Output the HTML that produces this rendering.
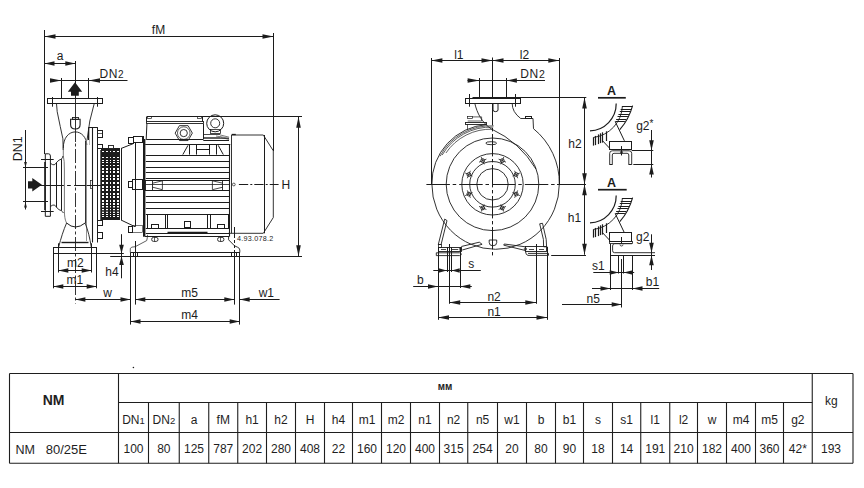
<!DOCTYPE html>
<html><head><meta charset="utf-8"><style>
html,body{margin:0;padding:0;background:#fff;}
body{width:864px;height:488px;overflow:hidden;}
svg{display:block;font-family:"Liberation Sans",sans-serif;}
</style></head><body>
<svg width="864" height="488" viewBox="0 0 864 488">
<defs><clipPath id="hau"><path d="M622.40,105.60 L619.80,111.50 L617.50,116.50 L615.20,121.50 L619.80,129.70 L624.00,123.00 L628.50,115.50 L631.00,110.00 L632.60,105.60 Z"/></clipPath>
<clipPath id="hbu"><path d="M622.40,197.60 L619.80,203.50 L617.50,208.50 L615.20,213.50 L619.80,221.70 L624.00,215.00 L628.50,207.50 L631.00,202.00 L632.60,197.60 Z"/></clipPath></defs>
<g fill="#1c1c1c" font-size="12">
<line x1="44.5" y1="30" x2="44.5" y2="154" stroke="#1c1c1c" stroke-width="1.0"/>
<line x1="273.5" y1="33" x2="273.5" y2="151" stroke="#1c1c1c" stroke-width="1.0"/>
<line x1="44.5" y1="36.5" x2="273.5" y2="36.5" stroke="#1c1c1c" stroke-width="1.0"/>
<polygon points="44.50,36.50 55.50,34.20 55.50,38.80" fill="#1c1c1c"/>
<polygon points="273.50,36.50 262.50,34.20 262.50,38.80" fill="#1c1c1c"/>
<text x="158.5" y="33.8" font-size="12" text-anchor="middle" font-weight="normal">fM</text>
<line x1="44.5" y1="63.5" x2="75.3" y2="63.5" stroke="#1c1c1c" stroke-width="1.0"/>
<polygon points="44.50,63.50 54.50,61.20 54.50,65.80" fill="#1c1c1c"/>
<polygon points="75.30,63.50 65.30,61.20 65.30,65.80" fill="#1c1c1c"/>
<text x="60" y="60" font-size="12" text-anchor="middle" font-weight="normal">a</text>
<line x1="75.5" y1="61" x2="75.5" y2="98" stroke="#1c1c1c" stroke-width="1.0"/>
<line x1="50" y1="80.5" x2="127.5" y2="80.5" stroke="#1c1c1c" stroke-width="1.0"/>
<polygon points="61.30,80.50 50.00,78.20 50.00,82.80" fill="#1c1c1c"/>
<polygon points="88.70,80.50 100.00,78.20 100.00,82.80" fill="#1c1c1c"/>
<line x1="61.5" y1="78" x2="61.5" y2="98.3" stroke="#1c1c1c" stroke-width="1.0"/>
<line x1="88.5" y1="78" x2="88.5" y2="98.3" stroke="#1c1c1c" stroke-width="1.0"/>
<text x="99.5" y="78" font-size="12" text-anchor="start" font-weight="normal" letter-spacing="0.6">DN<tspan font-size="10">2</tspan></text>
<polygon points="75,82.2 67.8,91.8 71,91.8 71,95.7 78.8,95.7 78.8,91.8 82.2,91.8" fill="#1c1c1c"/>
<line x1="25.5" y1="130" x2="25.5" y2="209.5" stroke="#1c1c1c" stroke-width="1.0"/>
<polygon points="25.50,167.60 24.10,162.10 26.90,162.10" fill="#1c1c1c"/>
<polygon points="25.50,202.00 24.10,207.50 26.90,207.50" fill="#1c1c1c"/>
<line x1="23" y1="167.5" x2="48" y2="167.5" stroke="#1c1c1c" stroke-width="1.0"/>
<line x1="23" y1="201.5" x2="48" y2="201.5" stroke="#1c1c1c" stroke-width="1.0"/>
<text x="0" y="0" font-size="12.5" text-anchor="middle" font-weight="normal" transform="translate(22.3,148.8) rotate(-90)">DN1</text>
<polygon points="41.9,184.8 32.3,178.1 32.3,181.3 28,181.3 28,188.6 32.3,188.6 32.3,191.5" fill="#1c1c1c"/>
<line x1="75.5" y1="98" x2="75.5" y2="142" stroke="#1c1c1c" stroke-width="0.9"/>
<line x1="75.5" y1="143.5" x2="75.5" y2="303.5" stroke="#1c1c1c" stroke-width="0.9" stroke-dasharray="3 2.5 14 2.5"/>
<line x1="29" y1="185.5" x2="63.9" y2="185.5" stroke="#1c1c1c" stroke-width="1.0"/>
<line x1="67.1" y1="185.5" x2="70.8" y2="185.5" stroke="#1c1c1c" stroke-width="1.0"/>
<line x1="74.1" y1="185.5" x2="101.9" y2="185.5" stroke="#1c1c1c" stroke-width="1.0"/>
<rect x="47.5" y="98.5" width="55.0" height="5.0" stroke="#1c1c1c" stroke-width="1.0" fill="none"/>
<line x1="52.5" y1="97" x2="52.5" y2="106.7" stroke="#1c1c1c" stroke-width="1.0"/>
<line x1="97.5" y1="97" x2="97.5" y2="106.7" stroke="#1c1c1c" stroke-width="1.0"/>
<path d="M56.5,103.7 L57.2,111.7 Q60.5,128 62.9,138.8 L63.2,150" stroke="#1c1c1c" stroke-width="0.9" fill="none"/>
<path d="M94.2,103.7 Q89,120 87,140.3" stroke="#1c1c1c" stroke-width="0.9" fill="none"/>
<path d="M63.3,148 C63.3,137.5 69,131.9 75.3,131.9 C81.6,131.9 86.5,137.5 86.8,145" stroke="#1c1c1c" stroke-width="0.9" fill="none"/>
<path d="M70.6,119.2 L70.6,124.5 Q70.6,129 75.3,129 Q80.1,129 80.1,124.5 L80.1,119.2 Z" stroke="#1c1c1c" stroke-width="1.1" fill="none"/>
<rect x="72.5" y="117.5" width="6.0" height="2.0" stroke="#1c1c1c" stroke-width="0.9" fill="none"/>
<path d="M63.3,148 L63.3,156 Q64.5,160 64.4,170 L64.4,212 C64.6,218 65.5,221 66.6,223" stroke="#555" stroke-width="0.8" fill="none"/>
<line x1="85.5" y1="141" x2="85.5" y2="223" stroke="#1c1c1c" stroke-width="0.9"/>
<line x1="86.5" y1="140" x2="86.5" y2="241" stroke="#777" stroke-width="0.8"/>
<path d="M66.6,223 Q75.3,231 85.1,223" stroke="#1c1c1c" stroke-width="1.0" fill="none"/>
<path d="M66.6,223 C63.5,230 61,238 58.6,247.2" stroke="#1c1c1c" stroke-width="0.9" fill="none"/>
<path d="M85.1,223 C88,230 89.8,238 91.3,247.2" stroke="#1c1c1c" stroke-width="0.9" fill="none"/>
<line x1="61.5" y1="242.5" x2="88.5" y2="242.5" stroke="#1c1c1c" stroke-width="1.4"/>
<path d="M45.3,216.3 L45.3,153.8 L48.5,153.8 Q50.4,153.8 50.4,156 L50.4,216.3 Z" stroke="#1c1c1c" stroke-width="1.0" fill="none"/>
<line x1="45" y1="162" x2="45" y2="210" stroke="#1c1c1c" stroke-width="1.6"/>
<line x1="41" y1="159.5" x2="53.7" y2="159.5" stroke="#1c1c1c" stroke-width="1.0"/>
<line x1="41" y1="211.5" x2="53.7" y2="211.5" stroke="#1c1c1c" stroke-width="1.0"/>
<path d="M50.4,163.3 Q52.5,165 54.1,164.8 Q55.5,164.5 56.7,162.3 Q59,159.5 61.3,159.2 Q62.5,158 63,156" stroke="#1c1c1c" stroke-width="0.9" fill="none"/>
<path d="M50.4,206.5 Q52.5,204.8 54.1,205 Q55.5,205.3 56.7,207.5 Q59,210.3 61.3,210.6 Q62.5,211.5 63.5,213" stroke="#1c1c1c" stroke-width="0.9" fill="none"/>
<line x1="56.5" y1="162.3" x2="56.5" y2="207.5" stroke="#1c1c1c" stroke-width="1.0"/>
<line x1="61.5" y1="159.2" x2="61.5" y2="210.6" stroke="#1c1c1c" stroke-width="1.0"/>
<rect x="53.5" y="247.5" width="43.0" height="6.0" stroke="#1c1c1c" stroke-width="1.0" fill="none"/>
<line x1="88.6" y1="127.5" x2="97.7" y2="127.5" stroke="#1c1c1c" stroke-width="1.0"/>
<line x1="88.5" y1="127.3" x2="88.5" y2="140" stroke="#1c1c1c" stroke-width="1.0"/>
<line x1="92.5" y1="127.3" x2="92.5" y2="242.5" stroke="#1c1c1c" stroke-width="1.1"/>
<line x1="97.5" y1="127.3" x2="97.5" y2="242.5" stroke="#1c1c1c" stroke-width="1.0"/>
<line x1="89.5" y1="128" x2="89.5" y2="145" stroke="#888" stroke-width="0.6"/>
<rect x="90.5" y="180.5" width="2.0" height="8.0" stroke="#1c1c1c" stroke-width="0.7" fill="none"/>
<rect x="97.5" y="130.5" width="5.0" height="7.0" stroke="#1c1c1c" stroke-width="1.0" fill="none"/>
<line x1="97.7" y1="133.5" x2="102.7" y2="133.5" stroke="#1c1c1c" stroke-width="0.7"/>
<rect x="97.5" y="144.5" width="5.0" height="4.0" stroke="#1c1c1c" stroke-width="1.0" fill="none"/>
<rect x="97.5" y="220.5" width="5.0" height="5.0" stroke="#1c1c1c" stroke-width="1.0" fill="none"/>
<rect x="97.5" y="232.5" width="5.0" height="6.0" stroke="#1c1c1c" stroke-width="1.0" fill="none"/>
<line x1="100.5" y1="150" x2="100.5" y2="220" stroke="#1c1c1c" stroke-width="0.7"/>
<rect x="101" y="148" width="19" height="72" fill="#1c1c1c"/>
<line x1="121.5" y1="148.2" x2="121.5" y2="220" stroke="#1c1c1c" stroke-width="1.0"/>
<rect x="108.5" y="145.5" width="5.0" height="3.0" stroke="#1c1c1c" stroke-width="0.9" fill="#fff"/>
<rect x="102" y="151" width="2" height="1" fill="#fff"/>
<rect x="106" y="151" width="2" height="1" fill="#fff"/>
<rect x="110" y="151" width="1" height="1" fill="#fff"/>
<rect x="113" y="151" width="2" height="1" fill="#fff"/>
<rect x="117" y="151" width="2" height="1" fill="#fff"/>
<rect x="102" y="157" width="2" height="1" fill="#fff"/>
<rect x="106" y="157" width="2" height="1" fill="#fff"/>
<rect x="110" y="157" width="1" height="1" fill="#fff"/>
<rect x="113" y="157" width="2" height="1" fill="#fff"/>
<rect x="117" y="157" width="2" height="1" fill="#fff"/>
<rect x="102" y="160" width="2" height="1" fill="#fff"/>
<rect x="106" y="160" width="2" height="1" fill="#fff"/>
<rect x="110" y="160" width="1" height="1" fill="#fff"/>
<rect x="113" y="160" width="2" height="1" fill="#fff"/>
<rect x="117" y="160" width="2" height="1" fill="#fff"/>
<rect x="102" y="162" width="2" height="1" fill="#fff"/>
<rect x="106" y="162" width="2" height="1" fill="#fff"/>
<rect x="110" y="162" width="1" height="1" fill="#fff"/>
<rect x="113" y="162" width="2" height="1" fill="#fff"/>
<rect x="117" y="162" width="2" height="1" fill="#fff"/>
<rect x="102" y="165" width="2" height="1" fill="#fff"/>
<rect x="106" y="165" width="2" height="1" fill="#fff"/>
<rect x="110" y="165" width="1" height="1" fill="#fff"/>
<rect x="113" y="165" width="2" height="1" fill="#fff"/>
<rect x="117" y="165" width="2" height="1" fill="#fff"/>
<rect x="102" y="168" width="2" height="2" fill="#fff"/>
<rect x="106" y="168" width="2" height="2" fill="#fff"/>
<rect x="110" y="168" width="1" height="2" fill="#fff"/>
<rect x="113" y="168" width="2" height="2" fill="#fff"/>
<rect x="117" y="168" width="2" height="2" fill="#fff"/>
<rect x="102" y="171" width="2" height="2" fill="#fff"/>
<rect x="106" y="171" width="2" height="2" fill="#fff"/>
<rect x="110" y="171" width="1" height="2" fill="#fff"/>
<rect x="113" y="171" width="2" height="2" fill="#fff"/>
<rect x="117" y="171" width="2" height="2" fill="#fff"/>
<rect x="102" y="175" width="2" height="2" fill="#fff"/>
<rect x="106" y="175" width="2" height="2" fill="#fff"/>
<rect x="110" y="175" width="1" height="2" fill="#fff"/>
<rect x="113" y="175" width="2" height="2" fill="#fff"/>
<rect x="117" y="175" width="2" height="2" fill="#fff"/>
<rect x="102" y="178" width="2" height="2" fill="#fff"/>
<rect x="106" y="178" width="2" height="2" fill="#fff"/>
<rect x="110" y="178" width="1" height="2" fill="#fff"/>
<rect x="113" y="178" width="2" height="2" fill="#fff"/>
<rect x="117" y="178" width="2" height="2" fill="#fff"/>
<rect x="102" y="182" width="2" height="2" fill="#fff"/>
<rect x="106" y="182" width="2" height="2" fill="#fff"/>
<rect x="110" y="182" width="1" height="2" fill="#fff"/>
<rect x="113" y="182" width="2" height="2" fill="#fff"/>
<rect x="117" y="182" width="2" height="2" fill="#fff"/>
<rect x="102" y="186" width="2" height="2" fill="#fff"/>
<rect x="106" y="186" width="2" height="2" fill="#fff"/>
<rect x="110" y="186" width="1" height="2" fill="#fff"/>
<rect x="113" y="186" width="2" height="2" fill="#fff"/>
<rect x="117" y="186" width="2" height="2" fill="#fff"/>
<rect x="102" y="189" width="2" height="2" fill="#fff"/>
<rect x="106" y="189" width="2" height="2" fill="#fff"/>
<rect x="110" y="189" width="1" height="2" fill="#fff"/>
<rect x="113" y="189" width="2" height="2" fill="#fff"/>
<rect x="117" y="189" width="2" height="2" fill="#fff"/>
<rect x="102" y="193" width="2" height="2" fill="#fff"/>
<rect x="106" y="193" width="2" height="2" fill="#fff"/>
<rect x="110" y="193" width="1" height="2" fill="#fff"/>
<rect x="113" y="193" width="2" height="2" fill="#fff"/>
<rect x="117" y="193" width="2" height="2" fill="#fff"/>
<rect x="102" y="196" width="2" height="2" fill="#fff"/>
<rect x="106" y="196" width="2" height="2" fill="#fff"/>
<rect x="110" y="196" width="1" height="2" fill="#fff"/>
<rect x="113" y="196" width="2" height="2" fill="#fff"/>
<rect x="117" y="196" width="2" height="2" fill="#fff"/>
<rect x="102" y="200" width="2" height="2" fill="#fff"/>
<rect x="106" y="200" width="2" height="2" fill="#fff"/>
<rect x="110" y="200" width="1" height="2" fill="#fff"/>
<rect x="113" y="200" width="2" height="2" fill="#fff"/>
<rect x="117" y="200" width="2" height="2" fill="#fff"/>
<rect x="102" y="203" width="2" height="2" fill="#fff"/>
<rect x="106" y="203" width="2" height="2" fill="#fff"/>
<rect x="110" y="203" width="1" height="2" fill="#fff"/>
<rect x="113" y="203" width="2" height="2" fill="#fff"/>
<rect x="117" y="203" width="2" height="2" fill="#fff"/>
<rect x="102" y="206" width="2" height="1.5" fill="#fff"/>
<rect x="106" y="206" width="2" height="1.5" fill="#fff"/>
<rect x="110" y="206" width="1" height="1.5" fill="#fff"/>
<rect x="113" y="206" width="2" height="1.5" fill="#fff"/>
<rect x="117" y="206" width="2" height="1.5" fill="#fff"/>
<rect x="102" y="209" width="2" height="1.2" fill="#fff"/>
<rect x="106" y="209" width="2" height="1.2" fill="#fff"/>
<rect x="110" y="209" width="1" height="1.2" fill="#fff"/>
<rect x="113" y="209" width="2" height="1.2" fill="#fff"/>
<rect x="117" y="209" width="2" height="1.2" fill="#fff"/>
<rect x="102" y="211.7" width="2" height="1.2" fill="#fff"/>
<rect x="106" y="211.7" width="2" height="1.2" fill="#fff"/>
<rect x="110" y="211.7" width="1" height="1.2" fill="#fff"/>
<rect x="113" y="211.7" width="2" height="1.2" fill="#fff"/>
<rect x="117" y="211.7" width="2" height="1.2" fill="#fff"/>
<rect x="102" y="214" width="2" height="1" fill="#fff"/>
<rect x="106" y="214" width="2" height="1" fill="#fff"/>
<rect x="110" y="214" width="1" height="1" fill="#fff"/>
<rect x="113" y="214" width="2" height="1" fill="#fff"/>
<rect x="117" y="214" width="2" height="1" fill="#fff"/>
<rect x="102" y="216" width="2" height="1" fill="#fff"/>
<rect x="106" y="216" width="2" height="1" fill="#fff"/>
<rect x="110" y="216" width="1" height="1" fill="#fff"/>
<rect x="113" y="216" width="2" height="1" fill="#fff"/>
<rect x="117" y="216" width="2" height="1" fill="#fff"/>
<line x1="121" y1="148.5" x2="133.1" y2="143.7" stroke="#1c1c1c" stroke-width="1.0"/>
<line x1="121" y1="220" x2="135" y2="226.7" stroke="#1c1c1c" stroke-width="1.0"/>
<rect x="128.5" y="137.5" width="5.0" height="6.0" stroke="#1c1c1c" stroke-width="1.0" fill="none"/>
<rect x="133.5" y="136.5" width="9.0" height="6.0" stroke="#1c1c1c" stroke-width="1.0" fill="none"/>
<rect x="128.5" y="181.5" width="4.0" height="6.0" stroke="#1c1c1c" stroke-width="1.0" fill="none"/>
<rect x="132.5" y="179.5" width="10.0" height="10.0" stroke="#1c1c1c" stroke-width="1.0" fill="none"/>
<rect x="128.5" y="226.5" width="4.0" height="6.0" stroke="#1c1c1c" stroke-width="1.0" fill="none"/>
<rect x="132.5" y="225.5" width="10.0" height="7.0" stroke="#1c1c1c" stroke-width="0.6" fill="none"/>
<line x1="135.5" y1="142.5" x2="135.5" y2="226.7" stroke="#1c1c1c" stroke-width="1.0"/>
<line x1="143.5" y1="136" x2="143.5" y2="236.7" stroke="#1c1c1c" stroke-width="1.0"/>
<line x1="144.6" y1="139" x2="144.6" y2="236.7" stroke="#1c1c1c" stroke-width="1.6"/>
<line x1="147" y1="116.5" x2="302" y2="116.5" stroke="#1c1c1c" stroke-width="1.0"/>
<rect x="147.5" y="116.5" width="4.0" height="2.0" stroke="#1c1c1c" stroke-width="0.7" fill="none"/>
<rect x="197.5" y="116.5" width="4.0" height="2.0" stroke="#1c1c1c" stroke-width="0.7" fill="none"/>
<line x1="146.5" y1="116.5" x2="146.5" y2="121.6" stroke="#1c1c1c" stroke-width="1.0"/>
<line x1="202.5" y1="116.5" x2="202.5" y2="121.6" stroke="#1c1c1c" stroke-width="1.0"/>
<rect x="146.5" y="121.5" width="57.0" height="2.0" stroke="#1c1c1c" stroke-width="0.9" fill="none"/>
<line x1="146.9" y1="124" x2="146.2" y2="139.5" stroke="#1c1c1c" stroke-width="1.0"/>
<line x1="203.5" y1="124" x2="203.5" y2="139.5" stroke="#1c1c1c" stroke-width="1.0"/>
<line x1="146.2" y1="139.5" x2="203.1" y2="139.5" stroke="#1c1c1c" stroke-width="1.0"/>
<polygon points="192.35,133.10 188.05,140.55 179.45,140.55 175.15,133.10 179.45,125.65 188.05,125.65" stroke="#1c1c1c" stroke-width="0.9" fill="none"/>
<circle cx="183.75" cy="133.1" r="6.3" stroke="#1c1c1c" stroke-width="0.7" fill="none"/>
<circle cx="183.75" cy="133.1" r="3.6" stroke="#1c1c1c" stroke-width="0.9" fill="none"/>
<circle cx="215.2" cy="123.3" r="8.5" stroke="#1c1c1c" stroke-width="1.0" fill="none"/>
<circle cx="215.2" cy="123.3" r="4.5" stroke="#1c1c1c" stroke-width="0.9" fill="none"/>
<rect x="210.5" y="129.5" width="10.0" height="4.0" stroke="#1c1c1c" stroke-width="0.8" fill="none"/>
<line x1="203.7" y1="134.5" x2="220" y2="134.5" stroke="#1c1c1c" stroke-width="0.8"/>
<line x1="203.7" y1="137.5" x2="220" y2="137.5" stroke="#1c1c1c" stroke-width="0.7"/>
<line x1="203.7" y1="138.5" x2="229" y2="138.5" stroke="#1c1c1c" stroke-width="0.7"/>
<line x1="220" y1="134.9" x2="229.1" y2="137.2" stroke="#1c1c1c" stroke-width="0.6"/>
<line x1="220" y1="137.2" x2="229.1" y2="139.5" stroke="#1c1c1c" stroke-width="0.6"/>
<line x1="216" y1="136" x2="229" y2="138.2" stroke="#1c1c1c" stroke-width="0.6"/>
<line x1="203.3" y1="140.5" x2="229" y2="140.5" stroke="#1c1c1c" stroke-width="1.0"/>
<line x1="145.2" y1="144.5" x2="230.3" y2="144.5" stroke="#1c1c1c" stroke-width="1.0"/>
<line x1="182.8" y1="154.6" x2="188" y2="145.3" stroke="#1c1c1c" stroke-width="1.0"/>
<line x1="223.3" y1="154.6" x2="218.2" y2="145.3" stroke="#1c1c1c" stroke-width="1.0"/>
<line x1="189.5" y1="144.4" x2="189.5" y2="154.6" stroke="#1c1c1c" stroke-width="1.0"/>
<line x1="196.5" y1="144.4" x2="196.5" y2="154.6" stroke="#1c1c1c" stroke-width="1.0"/>
<line x1="209.5" y1="144.4" x2="209.5" y2="154.6" stroke="#1c1c1c" stroke-width="1.0"/>
<line x1="216.5" y1="144.4" x2="216.5" y2="154.6" stroke="#1c1c1c" stroke-width="1.0"/>
<line x1="196.7" y1="149.5" x2="209.4" y2="149.5" stroke="#1c1c1c" stroke-width="1.0"/>
<line x1="145.8" y1="155.5" x2="229.2" y2="155.5" stroke="#1c1c1c" stroke-width="1.0"/>
<line x1="145.8" y1="161.5" x2="229.2" y2="161.5" stroke="#1c1c1c" stroke-width="1.0"/>
<line x1="145.8" y1="167.5" x2="229.2" y2="167.5" stroke="#1c1c1c" stroke-width="1.0"/>
<line x1="145.8" y1="172.5" x2="229.2" y2="172.5" stroke="#1c1c1c" stroke-width="1.0"/>
<line x1="145.8" y1="178.5" x2="229.2" y2="178.5" stroke="#1c1c1c" stroke-width="1.0"/>
<line x1="145.8" y1="196.5" x2="229.2" y2="196.5" stroke="#1c1c1c" stroke-width="1.0"/>
<line x1="145.8" y1="202.5" x2="229.2" y2="202.5" stroke="#1c1c1c" stroke-width="1.0"/>
<line x1="145.8" y1="208.5" x2="229.2" y2="208.5" stroke="#1c1c1c" stroke-width="1.0"/>
<line x1="145" y1="180.5" x2="229.7" y2="180.5" stroke="#1c1c1c" stroke-width="1.2"/>
<line x1="145" y1="190.5" x2="229.7" y2="190.5" stroke="#1c1c1c" stroke-width="1.2"/>
<line x1="145.7" y1="184.5" x2="229.7" y2="184.5" stroke="#1c1c1c" stroke-width="0.8"/>
<rect x="145.5" y="180.5" width="7.0" height="10.0" stroke="#1c1c1c" stroke-width="0.9" fill="none"/>
<path d="M152.6,183.2 L162.4,180.8 L162.4,189.7 L152.6,187.2" stroke="#1c1c1c" stroke-width="0.8" fill="none"/>
<rect x="222.5" y="180.5" width="7.0" height="10.0" stroke="#1c1c1c" stroke-width="0.9" fill="none"/>
<path d="M222.8,183.2 L212.4,180.8 L212.4,189.7 L222.8,187.2" stroke="#1c1c1c" stroke-width="0.8" fill="none"/>
<line x1="229.5" y1="144.5" x2="229.5" y2="236.7" stroke="#1c1c1c" stroke-width="1.1"/>
<line x1="145.8" y1="214.5" x2="229" y2="214.5" stroke="#1c1c1c" stroke-width="1.0"/>
<line x1="147.5" y1="214.7" x2="147.5" y2="228.3" stroke="#1c1c1c" stroke-width="1.0"/>
<line x1="165.5" y1="214.7" x2="165.5" y2="228.3" stroke="#1c1c1c" stroke-width="1.0"/>
<line x1="167.5" y1="214.7" x2="167.5" y2="228.3" stroke="#1c1c1c" stroke-width="1.0"/>
<line x1="207.5" y1="214.7" x2="207.5" y2="228.3" stroke="#1c1c1c" stroke-width="1.0"/>
<line x1="210.5" y1="214.7" x2="210.5" y2="228.3" stroke="#1c1c1c" stroke-width="1.0"/>
<line x1="228.5" y1="214.7" x2="228.5" y2="228.3" stroke="#1c1c1c" stroke-width="1.0"/>
<line x1="145.8" y1="228.5" x2="229" y2="228.5" stroke="#1c1c1c" stroke-width="1.0"/>
<line x1="145.8" y1="233.5" x2="229.2" y2="233.5" stroke="#1c1c1c" stroke-width="1.0"/>
<line x1="167.5" y1="232.5" x2="207.5" y2="232.5" stroke="#1c1c1c" stroke-width="1.4"/>
<rect x="151.5" y="224.5" width="7.0" height="4.0" stroke="#1c1c1c" stroke-width="1.0" fill="none"/>
<rect x="217.5" y="224.5" width="7.0" height="4.0" stroke="#1c1c1c" stroke-width="1.0" fill="none"/>
<rect x="184.5" y="221.5" width="6.0" height="6.0" stroke="#1c1c1c" stroke-width="1.0" fill="none"/>
<line x1="145" y1="236.5" x2="229" y2="236.5" stroke="#1c1c1c" stroke-width="1.0"/>
<rect x="151.7" y="237.4" width="6.3" height="4" rx="1.8" stroke="#1c1c1c" stroke-width="0.9" fill="none"/>
<line x1="154.5" y1="237.4" x2="154.5" y2="241.4" stroke="#1c1c1c" stroke-width="0.7"/>
<rect x="217.6" y="237.4" width="6.3" height="4" rx="1.8" stroke="#1c1c1c" stroke-width="0.9" fill="none"/>
<line x1="220.5" y1="237.4" x2="220.5" y2="241.4" stroke="#1c1c1c" stroke-width="0.7"/>
<path d="M130.3,252.5 L130.3,248.4 Q131,246.7 135.2,246.7 L146.7,240.6 Q147.5,238 147.5,234.8" stroke="#1c1c1c" stroke-width="0.7" fill="none"/>
<path d="M228.6,236.4 L228.6,239.8 L234.5,245.8 L237.5,247.2 Q239.8,248 239.8,250 L239.8,252.5" stroke="#1c1c1c" stroke-width="0.9" fill="none"/>
<line x1="96.7" y1="253.5" x2="123.8" y2="253.5" stroke="#1c1c1c" stroke-width="1.0"/>
<line x1="110.2" y1="256.5" x2="302" y2="256.5" stroke="#1c1c1c" stroke-width="1.0"/>
<line x1="130.3" y1="252.5" x2="240" y2="252.5" stroke="#1c1c1c" stroke-width="1.0"/>
<line x1="130.5" y1="252.5" x2="130.5" y2="324.6" stroke="#1c1c1c" stroke-width="1.0"/>
<line x1="135.5" y1="241" x2="135.5" y2="304.6" stroke="#1c1c1c" stroke-width="1.0"/>
<line x1="133.5" y1="252.5" x2="133.5" y2="256" stroke="#1c1c1c" stroke-width="1.0"/>
<line x1="137.5" y1="252.5" x2="137.5" y2="256" stroke="#1c1c1c" stroke-width="1.0"/>
<line x1="234.5" y1="227" x2="234.5" y2="235" stroke="#1c1c1c" stroke-width="1.0"/>
<line x1="234.5" y1="235" x2="234.5" y2="250" stroke="#1c1c1c" stroke-width="1.0" stroke-dasharray="3 2"/>
<line x1="234.5" y1="250" x2="234.5" y2="304.6" stroke="#1c1c1c" stroke-width="1.0"/>
<line x1="239.5" y1="252.5" x2="239.5" y2="324.6" stroke="#1c1c1c" stroke-width="1.0"/>
<line x1="231.5" y1="252.5" x2="231.5" y2="256" stroke="#1c1c1c" stroke-width="1.0"/>
<line x1="236.5" y1="252.5" x2="236.5" y2="256" stroke="#1c1c1c" stroke-width="1.0"/>
<path d="M231.5,233.3 L231.5,135 L263.3,135 L273.3,150.8 L273.3,217.5 L263.3,233.3 L228.4,233.3" stroke="#1c1c1c" stroke-width="0.9" fill="none"/>
<line x1="264.5" y1="135" x2="264.5" y2="233.3" stroke="#1c1c1c" stroke-width="1.0"/>
<line x1="231.7" y1="134.5" x2="235.8" y2="134.5" stroke="#1c1c1c" stroke-width="1.3"/>
<line x1="298.5" y1="116.7" x2="298.5" y2="256.3" stroke="#1c1c1c" stroke-width="1.0"/>
<polygon points="298.50,116.70 296.20,127.70 300.80,127.70" fill="#1c1c1c"/>
<polygon points="298.50,256.30 296.20,245.30 300.80,245.30" fill="#1c1c1c"/>
<line x1="238.9" y1="184.5" x2="278.6" y2="184.5" stroke="#1c1c1c" stroke-width="1.0" stroke-dasharray="9.3 2.1 2 2"/>
<circle cx="233.8" cy="184.5" r="1.4" stroke="#1c1c1c" stroke-width="0.7" fill="none"/>
<text x="281.5" y="189" font-size="12" text-anchor="start" font-weight="normal">H</text>
<text x="237" y="240.8" font-size="7.2" text-anchor="start" font-weight="normal" textLength="36.2" lengthAdjust="spacing">4.93.078.2</text>
<line x1="121.5" y1="234.2" x2="121.5" y2="278.3" stroke="#1c1c1c" stroke-width="1.0"/>
<polygon points="121.50,253.70 119.20,244.70 123.80,244.70" fill="#1c1c1c"/>
<polygon points="121.50,256.00 119.20,265.00 123.80,265.00" fill="#1c1c1c"/>
<text x="112" y="275.5" font-size="12" text-anchor="middle" font-weight="normal">h4</text>
<line x1="53.5" y1="253.7" x2="53.5" y2="288.3" stroke="#1c1c1c" stroke-width="1.0"/>
<line x1="96.5" y1="253.7" x2="96.5" y2="288.3" stroke="#1c1c1c" stroke-width="1.0"/>
<line x1="58.5" y1="243.3" x2="58.5" y2="272.5" stroke="#1c1c1c" stroke-width="1.0"/>
<line x1="91.5" y1="243.3" x2="91.5" y2="272.5" stroke="#1c1c1c" stroke-width="1.0"/>
<line x1="58.3" y1="270.5" x2="91.7" y2="270.5" stroke="#1c1c1c" stroke-width="1.0"/>
<polygon points="58.30,270.50 68.30,268.20 68.30,272.80" fill="#1c1c1c"/>
<polygon points="91.70,270.50 81.70,268.20 81.70,272.80" fill="#1c1c1c"/>
<text x="75.3" y="266.5" font-size="12" text-anchor="middle" font-weight="normal">m2</text>
<line x1="53.3" y1="286.5" x2="96.7" y2="286.5" stroke="#1c1c1c" stroke-width="1.0"/>
<polygon points="53.30,286.50 63.30,284.20 63.30,288.80" fill="#1c1c1c"/>
<polygon points="96.70,286.50 86.70,284.20 86.70,288.80" fill="#1c1c1c"/>
<text x="74.8" y="283.8" font-size="12" text-anchor="middle" font-weight="normal">m1</text>
<line x1="75.4" y1="299.5" x2="130.5" y2="299.5" stroke="#1c1c1c" stroke-width="1.0"/>
<polygon points="75.40,299.50 85.40,297.20 85.40,301.80" fill="#1c1c1c"/>
<polygon points="130.50,299.50 120.50,297.20 120.50,301.80" fill="#1c1c1c"/>
<text x="107.7" y="297" font-size="12" text-anchor="middle" font-weight="normal">w</text>
<line x1="135.3" y1="299.5" x2="234.3" y2="299.5" stroke="#1c1c1c" stroke-width="1.0"/>
<polygon points="135.30,299.50 145.30,297.20 145.30,301.80" fill="#1c1c1c"/>
<polygon points="234.30,299.50 224.30,297.20 224.30,301.80" fill="#1c1c1c"/>
<text x="189.6" y="297.2" font-size="12" text-anchor="middle" font-weight="normal">m5</text>
<line x1="239.7" y1="299.5" x2="279.6" y2="299.5" stroke="#1c1c1c" stroke-width="1.0"/>
<polygon points="239.70,299.50 249.70,297.20 249.70,301.80" fill="#1c1c1c"/>
<text x="266.3" y="297.2" font-size="12" text-anchor="middle" font-weight="normal">w1</text>
<line x1="130.5" y1="321.5" x2="239.7" y2="321.5" stroke="#1c1c1c" stroke-width="1.0"/>
<polygon points="130.50,321.50 140.50,319.20 140.50,323.80" fill="#1c1c1c"/>
<polygon points="239.70,321.50 229.70,319.20 229.70,323.80" fill="#1c1c1c"/>
<text x="189.6" y="319.2" font-size="12" text-anchor="middle" font-weight="normal">m4</text>
<line x1="431.5" y1="58" x2="431.5" y2="184.5" stroke="#1c1c1c" stroke-width="1.0"/>
<line x1="559.5" y1="58" x2="559.5" y2="184.5" stroke="#1c1c1c" stroke-width="1.0"/>
<line x1="492.5" y1="57.5" x2="492.5" y2="98.3" stroke="#1c1c1c" stroke-width="1.0"/>
<line x1="492.5" y1="103" x2="492.5" y2="257" stroke="#1c1c1c" stroke-width="1.0" stroke-dasharray="22.4 2.6 3.4 2.6"/>
<line x1="431.4" y1="60.5" x2="559.3" y2="60.5" stroke="#1c1c1c" stroke-width="1.0"/>
<polygon points="431.40,60.50 442.40,58.20 442.40,62.80" fill="#1c1c1c"/>
<polygon points="492.50,60.50 481.50,58.20 481.50,62.80" fill="#1c1c1c"/>
<polygon points="492.50,60.50 503.50,58.20 503.50,62.80" fill="#1c1c1c"/>
<polygon points="559.30,60.50 548.30,58.20 548.30,62.80" fill="#1c1c1c"/>
<text x="458.8" y="58.8" font-size="12" text-anchor="middle" font-weight="normal">l1</text>
<text x="524.5" y="58.8" font-size="12" text-anchor="middle" font-weight="normal">l2</text>
<line x1="467.5" y1="80.5" x2="545" y2="80.5" stroke="#1c1c1c" stroke-width="1.0"/>
<polygon points="479.60,80.50 467.60,78.20 467.60,82.80" fill="#1c1c1c"/>
<polygon points="506.30,80.50 516.90,78.20 516.90,82.80" fill="#1c1c1c"/>
<line x1="479.5" y1="78" x2="479.5" y2="98.3" stroke="#1c1c1c" stroke-width="1.0"/>
<line x1="506.5" y1="78" x2="506.5" y2="98.3" stroke="#1c1c1c" stroke-width="1.0"/>
<text x="520.2" y="77.6" font-size="12" text-anchor="start" font-weight="normal" letter-spacing="0.7">DN<tspan font-size="10.5">2</tspan></text>
<rect x="465.5" y="98.5" width="55.0" height="5.0" stroke="#1c1c1c" stroke-width="1.0" fill="none"/>
<line x1="469.5" y1="94" x2="469.5" y2="106.7" stroke="#1c1c1c" stroke-width="1.0"/>
<line x1="515.5" y1="94" x2="515.5" y2="106.7" stroke="#1c1c1c" stroke-width="1.0"/>
<line x1="472.5" y1="97.5" x2="586.3" y2="97.5" stroke="#1c1c1c" stroke-width="1.2"/>
<path d="M474.8,103.3 C477,113 482,123 491.5,129 A102.2,102.2 0 0 1 536,169.1" stroke="#1c1c1c" stroke-width="0.9" fill="none"/>
<path d="M512.2,103.3 Q512,112 520.7,118.5 L533,118.5 L533.5,128.7" stroke="#1c1c1c" stroke-width="0.9" fill="none"/>
<rect x="525.5" y="116.5" width="6.0" height="2.0" stroke="#1c1c1c" stroke-width="1.0" fill="none"/>
<path d="M493,103.3 L493,110 Q493,111.6 495.5,111.6 Q498,111.6 498,110 L498,103.3" stroke="#1c1c1c" stroke-width="1.0" fill="none"/>
<path d="M533.5,128.7 A69.7,69.7 0 0 1 559.3,184.3 A63.7,65 0 0 1 431.9,184.3 A58.7,58.7 0 0 1 486.8,124.6" stroke="#1c1c1c" stroke-width="0.9" fill="none"/>
<path d="M493.70,125.88 A57.4,57.4 0 0 0 440.02,156.25" stroke="#1c1c1c" stroke-width="0.7" fill="none"/>
<path d="M493.15,127.15 A56.1,56.1 0 0 0 442.12,155.15" stroke="#1c1c1c" stroke-width="0.7" fill="none"/>
<path d="M492.58,129.23 A54.0,54.0 0 0 0 445.93,153.00" stroke="#1c1c1c" stroke-width="0.7" fill="none"/>
<line x1="467.5" y1="124" x2="467.5" y2="129.8" stroke="#1c1c1c" stroke-width="0.7"/>
<rect x="467.5" y="116.5" width="5.0" height="2.0" stroke="#1c1c1c" stroke-width="0.7" fill="none"/>
<path d="M472,116.9 L481.6,116.9 L481.6,121 L467.7,121" stroke="#1c1c1c" stroke-width="0.7" fill="none"/>
<rect x="465.5" y="122.5" width="21.0" height="2.0" stroke="#1c1c1c" stroke-width="0.9" fill="none"/>
<circle cx="492.5" cy="184.3" r="15.7" stroke="#1c1c1c" stroke-width="0.9" fill="none"/>
<circle cx="492.5" cy="184.3" r="22.8" stroke="#1c1c1c" stroke-width="0.9" fill="none"/>
<circle cx="492.5" cy="184.3" r="30.7" stroke="#1c1c1c" stroke-width="0.9" fill="none"/>
<circle cx="492.5" cy="184.3" r="46.3" stroke="#1c1c1c" stroke-width="0.9" fill="none"/>
<ellipse cx="491.2" cy="143.2" rx="5.4" ry="1.5" stroke="#1c1c1c" stroke-width="0.9" fill="none"/>
<circle cx="502.3" cy="160.65" r="1.9" stroke="#1c1c1c" stroke-width="0.9" fill="none"/>
<line x1="498.6" y1="159.12" x2="505.99" y2="162.18" stroke="#1c1c1c" stroke-width="0.8"/>
<line x1="500.77" y1="164.34" x2="503.83" y2="156.95" stroke="#1c1c1c" stroke-width="0.8"/>
<circle cx="516.15" cy="174.5" r="1.9" stroke="#1c1c1c" stroke-width="0.9" fill="none"/>
<line x1="514.62" y1="170.81" x2="517.68" y2="178.2" stroke="#1c1c1c" stroke-width="0.8"/>
<line x1="512.46" y1="176.03" x2="519.85" y2="172.97" stroke="#1c1c1c" stroke-width="0.8"/>
<circle cx="516.15" cy="194.1" r="1.9" stroke="#1c1c1c" stroke-width="0.9" fill="none"/>
<line x1="517.68" y1="190.4" x2="514.62" y2="197.79" stroke="#1c1c1c" stroke-width="0.8"/>
<line x1="512.46" y1="192.57" x2="519.85" y2="195.63" stroke="#1c1c1c" stroke-width="0.8"/>
<circle cx="502.3" cy="207.95" r="1.9" stroke="#1c1c1c" stroke-width="0.9" fill="none"/>
<line x1="505.99" y1="206.42" x2="498.6" y2="209.48" stroke="#1c1c1c" stroke-width="0.8"/>
<line x1="500.77" y1="204.26" x2="503.83" y2="211.65" stroke="#1c1c1c" stroke-width="0.8"/>
<circle cx="482.7" cy="207.95" r="1.9" stroke="#1c1c1c" stroke-width="0.9" fill="none"/>
<line x1="486.4" y1="209.48" x2="479.01" y2="206.42" stroke="#1c1c1c" stroke-width="0.8"/>
<line x1="484.23" y1="204.26" x2="481.17" y2="211.65" stroke="#1c1c1c" stroke-width="0.8"/>
<circle cx="468.85" cy="194.1" r="1.9" stroke="#1c1c1c" stroke-width="0.9" fill="none"/>
<line x1="470.38" y1="197.79" x2="467.32" y2="190.4" stroke="#1c1c1c" stroke-width="0.8"/>
<line x1="472.54" y1="192.57" x2="465.15" y2="195.63" stroke="#1c1c1c" stroke-width="0.8"/>
<circle cx="468.85" cy="174.5" r="1.9" stroke="#1c1c1c" stroke-width="0.9" fill="none"/>
<line x1="467.32" y1="178.2" x2="470.38" y2="170.81" stroke="#1c1c1c" stroke-width="0.8"/>
<line x1="472.54" y1="176.03" x2="465.15" y2="172.97" stroke="#1c1c1c" stroke-width="0.8"/>
<circle cx="482.7" cy="160.65" r="1.9" stroke="#1c1c1c" stroke-width="0.9" fill="none"/>
<line x1="479.01" y1="162.18" x2="486.4" y2="159.12" stroke="#1c1c1c" stroke-width="0.8"/>
<line x1="484.23" y1="164.34" x2="481.17" y2="156.95" stroke="#1c1c1c" stroke-width="0.8"/>
<line x1="426.4" y1="184.5" x2="557" y2="184.5" stroke="#1c1c1c" stroke-width="1.0" stroke-dasharray="23.5 2.8 3.5 3"/>
<line x1="557" y1="184.5" x2="586" y2="184.5" stroke="#1c1c1c" stroke-width="1.0"/>
<path d="M489.2,240 L496.7,240 L496.7,242.5 Q496.7,245.8 492.9,245.8 Q489.2,245.8 489.2,242.5 Z" stroke="#1c1c1c" stroke-width="0.9" fill="none"/>
<path d="M444.7,219.1 L447,220.6 L441.1,244.5 L438.3,244.5 Z" stroke="#1c1c1c" stroke-width="0.9" fill="none"/>
<rect x="438.5" y="244.5" width="3.0" height="3.0" stroke="#1c1c1c" stroke-width="0.8" fill="none"/>
<rect x="438.5" y="247.5" width="23.0" height="4.0" stroke="#1c1c1c" stroke-width="0.9" fill="none"/>
<line x1="441" y1="249.5" x2="446" y2="249.5" stroke="#1c1c1c" stroke-width="0.8"/>
<line x1="452" y1="249.5" x2="458" y2="249.5" stroke="#1c1c1c" stroke-width="0.8"/>
<path d="M436.3,252.8 L459.5,252.8 Q461.3,252.8 461.3,254.2 Q461.3,255.6 459.5,255.6 L436.3,255.6 Z" stroke="#1c1c1c" stroke-width="0.9" fill="none"/>
<path d="M461.3,246.5 L479.3,242.2 L482.1,244.3 L462.3,250" stroke="#1c1c1c" stroke-width="0.9" fill="none"/>
<circle cx="460.4" cy="249.3" r="1.2" stroke="#1c1c1c" stroke-width="0.7" fill="none"/>
<path d="M539.7,223.8 L542.5,223.3 L546.2,239.4 L546.6,246.8 L543.6,246.8 L543.4,239.4 Z" stroke="#1c1c1c" stroke-width="0.9" fill="none"/>
<rect x="525.5" y="246.5" width="21.0" height="5.0" stroke="#1c1c1c" stroke-width="0.9" fill="none"/>
<line x1="529" y1="249.5" x2="534" y2="249.5" stroke="#1c1c1c" stroke-width="0.8"/>
<line x1="539" y1="249.5" x2="544" y2="249.5" stroke="#1c1c1c" stroke-width="0.8"/>
<path d="M528,253.4 L548.5,253.4 L548.5,255.4 L528,255.4 Q526,255.4 525.4,251.4" stroke="#1c1c1c" stroke-width="0.9" fill="none"/>
<path d="M525.4,246.8 L504.2,244 L503.8,245.2 L525.4,250.5" stroke="#1c1c1c" stroke-width="0.9" fill="none"/>
<circle cx="525.4" cy="249" r="1.2" stroke="#1c1c1c" stroke-width="0.7" fill="none"/>
<line x1="547.5" y1="246.8" x2="547.5" y2="255.4" stroke="#1c1c1c" stroke-width="1.0"/>
<line x1="551.2" y1="255.5" x2="586" y2="255.5" stroke="#1c1c1c" stroke-width="1.0"/>
<line x1="438.5" y1="247.3" x2="438.5" y2="319.8" stroke="#1c1c1c" stroke-width="1.0"/>
<line x1="447.5" y1="247.3" x2="447.5" y2="272" stroke="#1c1c1c" stroke-width="1.0"/>
<line x1="449.5" y1="244" x2="449.5" y2="303.8" stroke="#1c1c1c" stroke-width="1.0"/>
<line x1="451.5" y1="247.3" x2="451.5" y2="272" stroke="#1c1c1c" stroke-width="1.0"/>
<line x1="460.5" y1="247.3" x2="460.5" y2="288" stroke="#1c1c1c" stroke-width="1.0"/>
<line x1="536.5" y1="244" x2="536.5" y2="303.8" stroke="#1c1c1c" stroke-width="1.0"/>
<line x1="547.5" y1="255.4" x2="547.5" y2="319.8" stroke="#1c1c1c" stroke-width="1.0"/>
<line x1="433.3" y1="270.5" x2="480.8" y2="270.5" stroke="#1c1c1c" stroke-width="1.0"/>
<polygon points="446.70,270.50 438.70,268.20 438.70,272.80" fill="#1c1c1c"/>
<polygon points="451.70,270.50 459.70,268.20 459.70,272.80" fill="#1c1c1c"/>
<text x="471.2" y="267.9" font-size="12" text-anchor="middle" font-weight="normal">s</text>
<line x1="413.2" y1="286.5" x2="471.8" y2="286.5" stroke="#1c1c1c" stroke-width="1.0"/>
<polygon points="438.00,286.50 428.00,284.20 428.00,288.80" fill="#1c1c1c"/>
<polygon points="460.30,286.50 470.30,284.20 470.30,288.80" fill="#1c1c1c"/>
<text x="420.3" y="283.9" font-size="12" text-anchor="middle" font-weight="normal">b</text>
<line x1="449.2" y1="302.5" x2="536.3" y2="302.5" stroke="#1c1c1c" stroke-width="1.0"/>
<polygon points="449.20,302.50 460.20,300.20 460.20,304.80" fill="#1c1c1c"/>
<polygon points="536.30,302.50 525.30,300.20 525.30,304.80" fill="#1c1c1c"/>
<text x="494.1" y="300.6" font-size="12" text-anchor="middle" font-weight="normal">n2</text>
<line x1="438" y1="317.5" x2="547.5" y2="317.5" stroke="#1c1c1c" stroke-width="1.0"/>
<polygon points="438.00,317.50 449.00,315.20 449.00,319.80" fill="#1c1c1c"/>
<polygon points="547.50,317.50 536.50,315.20 536.50,319.80" fill="#1c1c1c"/>
<text x="494.1" y="316.3" font-size="12" text-anchor="middle" font-weight="normal">n1</text>
<line x1="584.5" y1="97.6" x2="584.5" y2="254.7" stroke="#1c1c1c" stroke-width="1.0"/>
<polygon points="584.50,97.60 582.20,108.60 586.80,108.60" fill="#1c1c1c"/>
<polygon points="584.50,184.30 582.20,173.30 586.80,173.30" fill="#1c1c1c"/>
<polygon points="584.50,184.30 582.20,195.30 586.80,195.30" fill="#1c1c1c"/>
<polygon points="584.50,254.70 582.20,243.70 586.80,243.70" fill="#1c1c1c"/>
<text x="575" y="148" font-size="12" text-anchor="middle" font-weight="normal">h2</text>
<text x="574.5" y="222.3" font-size="12" text-anchor="middle" font-weight="normal">h1</text>
<text x="611.5" y="94.7" font-size="12.5" text-anchor="middle" font-weight="bold">A</text>
<line x1="598" y1="97.8" x2="625.8" y2="97.8" stroke="#1c1c1c" stroke-width="1.7"/>
<path d="M616.2,103.6 A27,27 0 0 1 590,130.8" stroke="#1c1c1c" stroke-width="1.2" fill="none"/>
<g clip-path="url(#hau)"><line x1="600" y1="106.50" x2="640" y2="106.50" stroke="#1c1c1c" stroke-width="1.2"/><line x1="600" y1="109.50" x2="640" y2="109.50" stroke="#1c1c1c" stroke-width="1.2"/><line x1="600" y1="111.50" x2="640" y2="111.50" stroke="#1c1c1c" stroke-width="1.2"/><line x1="600" y1="114.50" x2="640" y2="114.50" stroke="#1c1c1c" stroke-width="1.2"/><line x1="600" y1="116.50" x2="640" y2="116.50" stroke="#1c1c1c" stroke-width="1.2"/><line x1="600" y1="119.50" x2="640" y2="119.50" stroke="#1c1c1c" stroke-width="1.2"/><line x1="600" y1="121.50" x2="640" y2="121.50" stroke="#1c1c1c" stroke-width="1.2"/></g>
<path d="M632.6,105.6 Q629,119 619.8,129.7" stroke="#1c1c1c" stroke-width="1.1" fill="none"/>
<path d="M622.4,106.2 A33.2,33.2 0 0 1 593.3,137.5" stroke="#1c1c1c" stroke-width="0.9" fill="none"/>
<line x1="593.5" y1="137.40" x2="593.5" y2="145.60" stroke="#1c1c1c" stroke-width="1.2"/>
<line x1="595.5" y1="135.90" x2="595.5" y2="145.10" stroke="#1c1c1c" stroke-width="1.2"/>
<line x1="598.5" y1="134.40" x2="598.5" y2="144.10" stroke="#1c1c1c" stroke-width="1.2"/>
<line x1="600.5" y1="133.30" x2="600.5" y2="143.10" stroke="#1c1c1c" stroke-width="1.2"/>
<line x1="602.5" y1="132.30" x2="602.5" y2="142.60" stroke="#1c1c1c" stroke-width="1.2"/>
<line x1="606.5" y1="131.30" x2="606.5" y2="141.00" stroke="#1c1c1c" stroke-width="1.2"/>
<line x1="615.2" y1="121.5" x2="624.4" y2="140.8" stroke="#1c1c1c" stroke-width="1.0"/>
<line x1="602.8" y1="141" x2="609.6" y2="148.2" stroke="#1c1c1c" stroke-width="1.0"/>
<rect x="609.5" y="141.5" width="22.0" height="8.0" stroke="#1c1c1c" stroke-width="1.0" fill="none"/>
<path d="M609.7,164.8 L609.7,153.3 Q609.7,150.8 612.2,150.8 L629.2,150.8 Q631.7,150.8 631.7,153.3 L631.7,164.8" stroke="#1c1c1c" stroke-width="0.9" fill="none"/>
<path d="M612.3,164.8 L612.3,155 Q612.3,153.3 614,153.3 L627.1,153.3 Q628.8,153.3 628.8,155 L628.8,164.8" stroke="#1c1c1c" stroke-width="0.9" fill="none"/>
<line x1="609.7" y1="164.5" x2="612.3" y2="164.5" stroke="#1c1c1c" stroke-width="1.0"/>
<line x1="628.8" y1="164.5" x2="631.7" y2="164.5" stroke="#1c1c1c" stroke-width="1.0"/>
<line x1="621.5" y1="146.1" x2="621.5" y2="155.4" stroke="#1c1c1c" stroke-width="1.0"/>
<polygon points="621.50,155.60 619.90,151.60 623.10,151.60" fill="#1c1c1c"/>
<line x1="631.7" y1="150.5" x2="653.3" y2="150.5" stroke="#1c1c1c" stroke-width="1.0"/>
<line x1="633.3" y1="164.5" x2="653.3" y2="164.5" stroke="#1c1c1c" stroke-width="1.0"/>
<line x1="651.5" y1="130" x2="651.5" y2="177.5" stroke="#1c1c1c" stroke-width="1.0"/>
<polygon points="651.50,150.30 649.20,140.30 653.80,140.30" fill="#1c1c1c"/>
<polygon points="651.50,164.50 649.20,174.50 653.80,174.50" fill="#1c1c1c"/>
<text x="636.2" y="130" font-size="12" text-anchor="start" font-weight="normal">g2<tspan font-size="10" dy="-3.5">*</tspan></text>
<text x="611.5" y="186.7" font-size="12.5" text-anchor="middle" font-weight="bold">A</text>
<line x1="598" y1="189.7" x2="626.7" y2="189.7" stroke="#1c1c1c" stroke-width="1.7"/>
<path d="M616.2,195.6 A27,27 0 0 1 590,222.8" stroke="#1c1c1c" stroke-width="1.2" fill="none"/>
<g clip-path="url(#hbu)"><line x1="600" y1="198.50" x2="640" y2="198.50" stroke="#1c1c1c" stroke-width="1.2"/><line x1="600" y1="201.50" x2="640" y2="201.50" stroke="#1c1c1c" stroke-width="1.2"/><line x1="600" y1="203.50" x2="640" y2="203.50" stroke="#1c1c1c" stroke-width="1.2"/><line x1="600" y1="206.50" x2="640" y2="206.50" stroke="#1c1c1c" stroke-width="1.2"/><line x1="600" y1="208.50" x2="640" y2="208.50" stroke="#1c1c1c" stroke-width="1.2"/><line x1="600" y1="211.50" x2="640" y2="211.50" stroke="#1c1c1c" stroke-width="1.2"/><line x1="600" y1="213.50" x2="640" y2="213.50" stroke="#1c1c1c" stroke-width="1.2"/></g>
<path d="M632.6,197.6 Q629,211 619.8,221.7" stroke="#1c1c1c" stroke-width="1.1" fill="none"/>
<path d="M622.4,198.2 A33.2,33.2 0 0 1 593.3,229.5" stroke="#1c1c1c" stroke-width="0.9" fill="none"/>
<line x1="593.5" y1="229.40" x2="593.5" y2="237.60" stroke="#1c1c1c" stroke-width="1.2"/>
<line x1="595.5" y1="227.90" x2="595.5" y2="237.10" stroke="#1c1c1c" stroke-width="1.2"/>
<line x1="598.5" y1="226.40" x2="598.5" y2="236.10" stroke="#1c1c1c" stroke-width="1.2"/>
<line x1="600.5" y1="225.30" x2="600.5" y2="235.10" stroke="#1c1c1c" stroke-width="1.2"/>
<line x1="602.5" y1="224.30" x2="602.5" y2="234.60" stroke="#1c1c1c" stroke-width="1.2"/>
<line x1="606.5" y1="223.30" x2="606.5" y2="233.00" stroke="#1c1c1c" stroke-width="1.2"/>
<line x1="615.2" y1="213.5" x2="624.4" y2="232.8" stroke="#1c1c1c" stroke-width="1.0"/>
<line x1="602.8" y1="233" x2="609.6" y2="240.2" stroke="#1c1c1c" stroke-width="1.0"/>
<rect x="609.5" y="232.5" width="22.0" height="9.0" stroke="#1c1c1c" stroke-width="1.0" fill="none"/>
<rect x="609.5" y="241.5" width="23.0" height="2.0" stroke="#1c1c1c" stroke-width="0.8" fill="none"/>
<line x1="610.5" y1="243.7" x2="610.5" y2="290" stroke="#1c1c1c" stroke-width="1.0"/>
<path d="M632,243.7 L614.6,243.7 Q612.6,243.7 612.6,246 L612.6,250.7 Q612.6,252.7 614.6,252.7 L655,252.7" stroke="#1c1c1c" stroke-width="0.9" fill="none"/>
<line x1="610.3" y1="255.5" x2="655" y2="255.5" stroke="#1c1c1c" stroke-width="1.0"/>
<line x1="621.5" y1="237" x2="621.5" y2="244" stroke="#1c1c1c" stroke-width="1.0"/>
<path d="M620,244.5 A1.5,1.5 0 0 0 623,244.5" stroke="#1c1c1c" stroke-width="0.8" fill="none"/>
<line x1="651.5" y1="234.3" x2="651.5" y2="270" stroke="#1c1c1c" stroke-width="1.0"/>
<polygon points="651.50,252.70 649.20,242.70 653.80,242.70" fill="#1c1c1c"/>
<polygon points="651.50,255.20 649.20,265.20 653.80,265.20" fill="#1c1c1c"/>
<text x="642.8" y="240.9" font-size="12" text-anchor="middle" font-weight="normal">g2</text>
<line x1="618.5" y1="255.2" x2="618.5" y2="273.5" stroke="#1c1c1c" stroke-width="1.0"/>
<line x1="623.5" y1="255.2" x2="623.5" y2="273.5" stroke="#1c1c1c" stroke-width="1.0"/>
<line x1="632.5" y1="255.2" x2="632.5" y2="290" stroke="#1c1c1c" stroke-width="1.0"/>
<line x1="621.5" y1="259" x2="621.5" y2="307.5" stroke="#1c1c1c" stroke-width="1.0"/>
<line x1="593.3" y1="272.5" x2="634.2" y2="272.5" stroke="#1c1c1c" stroke-width="1.0"/>
<polygon points="618.70,272.50 609.70,270.20 609.70,274.80" fill="#1c1c1c"/>
<polygon points="623.70,272.50 632.70,270.20 632.70,274.80" fill="#1c1c1c"/>
<text x="598.3" y="269.7" font-size="12" text-anchor="middle" font-weight="normal">s1</text>
<line x1="592" y1="288.5" x2="659.2" y2="288.5" stroke="#1c1c1c" stroke-width="1.0"/>
<polygon points="610.50,288.50 600.50,286.20 600.50,290.80" fill="#1c1c1c"/>
<polygon points="632.50,288.50 642.50,286.20 642.50,290.80" fill="#1c1c1c"/>
<text x="652.5" y="285.8" font-size="12" text-anchor="middle" font-weight="normal">b1</text>
<line x1="562" y1="304.5" x2="621.7" y2="304.5" stroke="#1c1c1c" stroke-width="1.0"/>
<polygon points="621.70,304.50 611.70,302.20 611.70,306.80" fill="#1c1c1c"/>
<text x="593.3" y="303" font-size="12" text-anchor="middle" font-weight="normal">n5</text>
</g>
<g fill="#1e1e1e" font-size="12">
<line x1="9.5" y1="373.5" x2="853" y2="373.5" stroke="#1e1e1e" stroke-width="1.1"/>
<line x1="9.5" y1="463.3" x2="853" y2="463.3" stroke="#1e1e1e" stroke-width="1.1"/>
<line x1="9.5" y1="432.5" x2="853" y2="432.5" stroke="#1e1e1e" stroke-width="1.1"/>
<line x1="9.5" y1="373.5" x2="9.5" y2="463.3" stroke="#1e1e1e" stroke-width="1.1"/>
<line x1="853" y1="373.5" x2="853" y2="463.3" stroke="#1e1e1e" stroke-width="1.1"/>
<line x1="118.5" y1="402.5" x2="812.25" y2="402.5" stroke="#1e1e1e" stroke-width="1.1"/>
<line x1="118.5" y1="373.5" x2="118.5" y2="463.3" stroke="#1e1e1e" stroke-width="1.1"/>
<line x1="812.25" y1="373.5" x2="812.25" y2="463.3" stroke="#1e1e1e" stroke-width="1.1"/>
<line x1="148.5" y1="402.5" x2="148.5" y2="463.3" stroke="#1e1e1e" stroke-width="1.1"/>
<line x1="179.25" y1="402.5" x2="179.25" y2="463.3" stroke="#1e1e1e" stroke-width="1.1"/>
<line x1="208.75" y1="402.5" x2="208.75" y2="463.3" stroke="#1e1e1e" stroke-width="1.1"/>
<line x1="237.75" y1="402.5" x2="237.75" y2="463.3" stroke="#1e1e1e" stroke-width="1.1"/>
<line x1="266.5" y1="402.5" x2="266.5" y2="463.3" stroke="#1e1e1e" stroke-width="1.1"/>
<line x1="295.5" y1="402.5" x2="295.5" y2="463.3" stroke="#1e1e1e" stroke-width="1.1"/>
<line x1="324.5" y1="402.5" x2="324.5" y2="463.3" stroke="#1e1e1e" stroke-width="1.1"/>
<line x1="352.5" y1="402.5" x2="352.5" y2="463.3" stroke="#1e1e1e" stroke-width="1.1"/>
<line x1="381.5" y1="402.5" x2="381.5" y2="463.3" stroke="#1e1e1e" stroke-width="1.1"/>
<line x1="410.5" y1="402.5" x2="410.5" y2="463.3" stroke="#1e1e1e" stroke-width="1.1"/>
<line x1="439.5" y1="402.5" x2="439.5" y2="463.3" stroke="#1e1e1e" stroke-width="1.1"/>
<line x1="467.75" y1="402.5" x2="467.75" y2="463.3" stroke="#1e1e1e" stroke-width="1.1"/>
<line x1="497.5" y1="402.5" x2="497.5" y2="463.3" stroke="#1e1e1e" stroke-width="1.1"/>
<line x1="526.5" y1="402.5" x2="526.5" y2="463.3" stroke="#1e1e1e" stroke-width="1.1"/>
<line x1="555.5" y1="402.5" x2="555.5" y2="463.3" stroke="#1e1e1e" stroke-width="1.1"/>
<line x1="583.5" y1="402.5" x2="583.5" y2="463.3" stroke="#1e1e1e" stroke-width="1.1"/>
<line x1="612.5" y1="402.5" x2="612.5" y2="463.3" stroke="#1e1e1e" stroke-width="1.1"/>
<line x1="640.75" y1="402.5" x2="640.75" y2="463.3" stroke="#1e1e1e" stroke-width="1.1"/>
<line x1="669.75" y1="402.5" x2="669.75" y2="463.3" stroke="#1e1e1e" stroke-width="1.1"/>
<line x1="697.5" y1="402.5" x2="697.5" y2="463.3" stroke="#1e1e1e" stroke-width="1.1"/>
<line x1="726.5" y1="402.5" x2="726.5" y2="463.3" stroke="#1e1e1e" stroke-width="1.1"/>
<line x1="755.5" y1="402.5" x2="755.5" y2="463.3" stroke="#1e1e1e" stroke-width="1.1"/>
<line x1="783.5" y1="402.5" x2="783.5" y2="463.3" stroke="#1e1e1e" stroke-width="1.1"/>
<text x="133.50" y="423.8" text-anchor="middle">DN<tspan font-size="9.5">1</tspan></text>
<text x="133.50" y="453" text-anchor="middle">100</text>
<text x="163.88" y="423.8" text-anchor="middle">DN<tspan font-size="9.5">2</tspan></text>
<text x="163.88" y="453" text-anchor="middle">80</text>
<text x="194.00" y="423.8" text-anchor="middle">a</text>
<text x="194.00" y="453" text-anchor="middle">125</text>
<text x="223.25" y="423.8" text-anchor="middle">fM</text>
<text x="223.25" y="453" text-anchor="middle">787</text>
<text x="252.12" y="423.8" text-anchor="middle">h1</text>
<text x="252.12" y="453" text-anchor="middle">202</text>
<text x="281.00" y="423.8" text-anchor="middle">h2</text>
<text x="281.00" y="453" text-anchor="middle">280</text>
<text x="310.00" y="423.8" text-anchor="middle">H</text>
<text x="310.00" y="453" text-anchor="middle">408</text>
<text x="338.50" y="423.8" text-anchor="middle">h4</text>
<text x="338.50" y="453" text-anchor="middle">22</text>
<text x="367.00" y="423.8" text-anchor="middle">m1</text>
<text x="367.00" y="453" text-anchor="middle">160</text>
<text x="396.00" y="423.8" text-anchor="middle">m2</text>
<text x="396.00" y="453" text-anchor="middle">120</text>
<text x="425.00" y="423.8" text-anchor="middle">n1</text>
<text x="425.00" y="453" text-anchor="middle">400</text>
<text x="453.62" y="423.8" text-anchor="middle">n2</text>
<text x="453.62" y="453" text-anchor="middle">315</text>
<text x="482.62" y="423.8" text-anchor="middle">n5</text>
<text x="482.62" y="453" text-anchor="middle">254</text>
<text x="512.00" y="423.8" text-anchor="middle">w1</text>
<text x="512.00" y="453" text-anchor="middle">20</text>
<text x="541.00" y="423.8" text-anchor="middle">b</text>
<text x="541.00" y="453" text-anchor="middle">80</text>
<text x="569.50" y="423.8" text-anchor="middle">b1</text>
<text x="569.50" y="453" text-anchor="middle">90</text>
<text x="598.00" y="423.8" text-anchor="middle">s</text>
<text x="598.00" y="453" text-anchor="middle">18</text>
<text x="626.62" y="423.8" text-anchor="middle">s1</text>
<text x="626.62" y="453" text-anchor="middle">14</text>
<text x="655.25" y="423.8" text-anchor="middle">l1</text>
<text x="655.25" y="453" text-anchor="middle">191</text>
<text x="683.62" y="423.8" text-anchor="middle">l2</text>
<text x="683.62" y="453" text-anchor="middle">210</text>
<text x="712.00" y="423.8" text-anchor="middle">w</text>
<text x="712.00" y="453" text-anchor="middle">182</text>
<text x="741.00" y="423.8" text-anchor="middle">m4</text>
<text x="741.00" y="453" text-anchor="middle">400</text>
<text x="769.50" y="423.8" text-anchor="middle">m5</text>
<text x="769.50" y="453" text-anchor="middle">360</text>
<text x="797.88" y="423.8" text-anchor="middle">g2</text>
<text x="797.88" y="453" text-anchor="middle">42*</text>
<text x="831.42" y="405" text-anchor="middle">kg</text>
<text x="831" y="453" text-anchor="middle">193</text>
<text x="53.6" y="404.7" text-anchor="middle" font-weight="bold" font-size="14">NM</text>
<text x="15.5" y="454" textLength="19.5" lengthAdjust="spacingAndGlyphs">NM</text>
<text x="45.8" y="454" textLength="41.2" lengthAdjust="spacingAndGlyphs">80/25E</text>
<text x="437.7" y="390" font-size="10" font-weight="bold" textLength="14.6" lengthAdjust="spacingAndGlyphs">мм</text>
<circle cx="133.4" cy="367.5" r="0.8" fill="#1e1e1e"/>
</g>
</svg>
</body></html>
